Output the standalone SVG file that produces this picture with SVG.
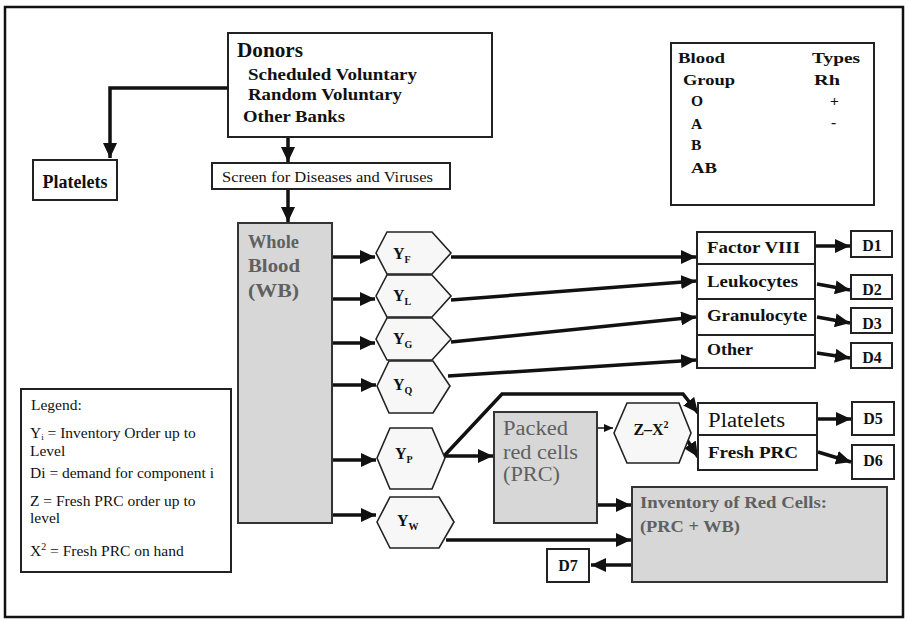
<svg xmlns="http://www.w3.org/2000/svg" width="908" height="621" viewBox="0 0 908 621">
<style>
.box{fill:#fff;stroke:#222;stroke-width:2}
.gbox{fill:#d7d7d7;stroke:#333;stroke-width:2}
.hex{fill:#f7f7f7;stroke:#222;stroke-width:1.6}
.c{fill:none;stroke:#111;stroke-width:3.5}
.thin{fill:none;stroke:#111;stroke-width:1.5}
.t{font-family:"Liberation Serif","Times New Roman",serif;fill:#111}
.b{font-weight:bold}
.g{fill:#606060}
</style>
<defs>
<marker id="ah" markerUnits="userSpaceOnUse" markerWidth="16" markerHeight="14" refX="15" refY="7" orient="auto"><path d="M0,0 L15,7 L0,14 z" fill="#111"/></marker>
<marker id="sh" markerUnits="userSpaceOnUse" markerWidth="9" markerHeight="8" refX="9" refY="4" orient="auto"><path d="M0,0 L9,4 L0,8 z" fill="#111"/></marker>
</defs>
<rect x="5" y="7" width="898" height="610" fill="#fff" stroke="#111" stroke-width="2.5"/>

<g id="connectors">
<path class="c" d="M228,88 H110 V158" marker-end="url(#ah)"/>
<path class="c" d="M288,137 V162" marker-end="url(#ah)"/>
<path class="c" d="M288,189 V222" marker-end="url(#ah)"/>
<path class="c" d="M332,257 H375" marker-end="url(#ah)"/>
<path class="c" d="M332,299 H375" marker-end="url(#ah)"/>
<path class="c" d="M332,343 H375" marker-end="url(#ah)"/>
<path class="c" d="M332,385 H376" marker-end="url(#ah)"/>
<path class="c" d="M332,460 H376" marker-end="url(#ah)"/>
<path class="c" d="M332,515 H376" marker-end="url(#ah)"/>
<path class="c" d="M451,257 H696" marker-end="url(#ah)"/>
<path class="c" d="M451,300 L696,281" marker-end="url(#ah)"/>
<path class="c" d="M451,342 L696,317" marker-end="url(#ah)"/>
<path class="c" d="M448,376 L696,360" marker-end="url(#ah)"/>
<path class="c" d="M815,246 H850" marker-end="url(#ah)"/>
<path class="c" d="M817,284 L850,290" marker-end="url(#ah)"/>
<path class="c" d="M817,317 L850,323" marker-end="url(#ah)"/>
<path class="c" d="M817,353 L850,358" marker-end="url(#ah)"/>
<path class="c" d="M444,456 L502,394 H683 L698,413" marker-end="url(#ah)"/>
<path class="c" d="M444,456 H493" marker-end="url(#ah)"/>
<path class="thin" d="M598,428 H613" marker-end="url(#sh)"/>
<path class="c" d="M687,440 L698,457" marker-end="url(#ah)"/>
<path class="c" d="M817,419 H851" marker-end="url(#ah)"/>
<path class="c" d="M818,452 L851,462" marker-end="url(#ah)"/>
<path class="c" d="M597,505 H631" marker-end="url(#ah)"/>
<path class="c" d="M446,540 H631" marker-end="url(#ah)"/>
<path class="c" d="M632,565 H591" marker-end="url(#ah)"/>
</g>

<g id="donors">
<rect class="box" x="228" y="33" width="264" height="104"/>
<text class="t b" x="237" y="57" font-size="20" textLength="66" lengthAdjust="spacingAndGlyphs">Donors</text>
<text class="t b" x="248" y="80" font-size="16.5" textLength="169" lengthAdjust="spacingAndGlyphs">Scheduled Voluntary</text>
<text class="t b" x="248" y="100" font-size="16.5" textLength="154" lengthAdjust="spacingAndGlyphs">Random Voluntary</text>
<text class="t b" x="243" y="122" font-size="16.5" textLength="102" lengthAdjust="spacingAndGlyphs">Other Banks</text>
</g>
<g id="platelets-left">
<rect class="box" x="33" y="160" width="84" height="40"/>
<text class="t b" x="75" y="188" font-size="18" text-anchor="middle">Platelets</text>
</g>
<g id="screen">
<rect class="box" x="212" y="163" width="238" height="26"/>
<text class="t" x="222" y="182" font-size="15" textLength="211" lengthAdjust="spacingAndGlyphs">Screen for Diseases and Viruses</text>
</g>
<g id="bloodtypes">
<rect class="box" x="671" y="43" width="203" height="162"/>
<text class="t b" x="678" y="63" font-size="15.5" textLength="47" lengthAdjust="spacingAndGlyphs">Blood</text>
<text class="t b" x="812" y="63" font-size="15.5" textLength="48" lengthAdjust="spacingAndGlyphs">Types</text>
<text class="t b" x="683" y="85" font-size="15.5" textLength="52" lengthAdjust="spacingAndGlyphs">Group</text>
<text class="t b" x="814" y="85" font-size="15.5" textLength="26" lengthAdjust="spacingAndGlyphs">Rh</text>
<text class="t b" x="691" y="106" font-size="15.5">O</text>
<text class="t b" x="830" y="106" font-size="15.5">+</text>
<text class="t b" x="691" y="129" font-size="15.5">A</text>
<text class="t b" x="831" y="127" font-size="15.5">-</text>
<text class="t b" x="691" y="150" font-size="15.5">B</text>
<text class="t b" x="691" y="173" font-size="15.5" textLength="26" lengthAdjust="spacingAndGlyphs">AB</text>
</g>
<g id="wholeblood">
<rect class="gbox" x="238" y="223" width="94" height="300"/>
<text class="t b g" x="248" y="248" font-size="19" textLength="51" lengthAdjust="spacingAndGlyphs">Whole</text>
<text class="t b g" x="248" y="272" font-size="19" textLength="52" lengthAdjust="spacingAndGlyphs">Blood</text>
<text class="t b g" x="248" y="297" font-size="19" textLength="51" lengthAdjust="spacingAndGlyphs">(WB)</text>
</g>
<g id="legend">
<rect class="box" x="21" y="389" width="210" height="183"/>
<text class="t" x="31" y="410" font-size="15.5">Legend:</text>
<text class="t" x="30" y="438" font-size="15.5">Y<tspan font-size="9" dy="2">i</tspan><tspan dy="-2"> = Inventory Order up to</tspan></text>
<text class="t" x="30" y="456" font-size="15.5">Level</text>
<text class="t" x="30" y="478" font-size="15.5">Di = demand for component i</text>
<text class="t" x="30" y="506" font-size="15.5">Z = Fresh PRC order up to</text>
<text class="t" x="30" y="523" font-size="15.5">level</text>
<text class="t" x="30" y="556" font-size="15.5">X<tspan font-size="10" dy="-6">2</tspan><tspan dy="6"> = Fresh PRC on hand</tspan></text>
</g>
<g id="yf">
<polygon class="hex" points="376,253 387,232 432,232 451,253 432,274 387,274"/>
<text class="t b" x="393" y="259" font-size="16">Y<tspan font-size="10" dy="4">F</tspan></text>
</g>
<g id="yl">
<polygon class="hex" points="376,296 387,275 432,275 451,296 432,317 387,317"/>
<text class="t b" x="393" y="301" font-size="16">Y<tspan font-size="10" dy="4">L</tspan></text>
</g>
<g id="yg">
<polygon class="hex" points="376,339 387,318 432,318 451,339 432,360 387,360"/>
<text class="t b" x="393" y="344" font-size="16">Y<tspan font-size="10" dy="4">G</tspan></text>
</g>
<g id="yq">
<polygon class="hex" points="377,386 389,361 433,361 450,386 433,413 389,413"/>
<text class="t b" x="393" y="390" font-size="16">Y<tspan font-size="10" dy="4">Q</tspan></text>
</g>
<g id="yp">
<polygon class="hex" points="377,458 390,428 432,428 445,458 432,489 390,489"/>
<text class="t b" x="395" y="459" font-size="16">Y<tspan font-size="10" dy="4">P</tspan></text>
</g>
<g id="yw">
<polygon class="hex" points="377,522 390,497 439,497 454,522 439,548 390,548"/>
<text class="t b" x="397" y="526" font-size="16">Y<tspan font-size="10" dy="4">W</tspan></text>
</g>
<g id="factor">
<rect class="box" x="697" y="232" width="118" height="32"/>
<text class="t b" x="707" y="253" font-size="16" textLength="93" lengthAdjust="spacingAndGlyphs">Factor VIII</text>
</g>
<g id="leuko">
<rect class="box" x="697" y="264" width="118" height="35"/>
<text class="t b" x="707" y="287" font-size="16" textLength="91" lengthAdjust="spacingAndGlyphs">Leukocytes</text>
</g>
<g id="granulo">
<rect class="box" x="697" y="299" width="118" height="36"/>
<text class="t b" x="707" y="321" font-size="16" textLength="100" lengthAdjust="spacingAndGlyphs">Granulocyte</text>
</g>
<g id="other">
<rect class="box" x="697" y="335" width="118" height="33"/>
<text class="t b" x="707" y="355" font-size="16" textLength="46" lengthAdjust="spacingAndGlyphs">Other</text>
</g>
<g id="d1"><rect class="box" x="851" y="231" width="41" height="26"/><text class="t b" x="872" y="251" font-size="16" text-anchor="middle">D1</text></g>
<g id="d2"><rect class="box" x="851" y="275" width="41" height="24"/><text class="t b" x="872" y="295" font-size="16" text-anchor="middle">D2</text></g>
<g id="d3"><rect class="box" x="851" y="308" width="41" height="25"/><text class="t b" x="872" y="329" font-size="16" text-anchor="middle">D3</text></g>
<g id="d4"><rect class="box" x="851" y="343" width="41" height="25"/><text class="t b" x="872" y="363" font-size="16" text-anchor="middle">D4</text></g>
<g id="packed">
<rect class="gbox" x="494" y="412" width="103" height="111"/>
<text class="t g" x="503" y="435" font-size="20" textLength="65" lengthAdjust="spacingAndGlyphs">Packed</text>
<text class="t g" x="503" y="459" font-size="20" textLength="75" lengthAdjust="spacingAndGlyphs">red cells</text>
<text class="t g" x="503" y="481" font-size="20" textLength="57" lengthAdjust="spacingAndGlyphs">(PRC)</text>
</g>
<g id="zx">
<polygon class="hex" points="614,433 627,403 679,403 691,433 679,463 627,463"/>
<text class="t b" x="651" y="435" font-size="16" text-anchor="middle">Z–X<tspan font-size="10" dy="-7">2</tspan></text>
</g>
<g id="platelets-right">
<rect class="box" x="698" y="403" width="119" height="32"/>
<text class="t" x="708" y="427" font-size="20" textLength="77" lengthAdjust="spacingAndGlyphs">Platelets</text>
</g>
<g id="freshprc">
<rect class="box" x="698" y="435" width="119" height="35"/>
<text class="t b" x="708" y="458" font-size="16" textLength="90" lengthAdjust="spacingAndGlyphs">Fresh PRC</text>
</g>
<g id="d5"><rect class="box" x="852" y="402" width="42" height="33"/><text class="t b" x="873" y="424" font-size="16" text-anchor="middle">D5</text></g>
<g id="d6"><rect class="box" x="852" y="445" width="42" height="34"/><text class="t b" x="873" y="466" font-size="16" text-anchor="middle">D6</text></g>
<g id="inventory">
<rect class="gbox" x="632" y="487" width="255" height="95"/>
<text class="t b g" x="640" y="508" font-size="16.5" textLength="187" lengthAdjust="spacingAndGlyphs">Inventory of Red Cells:</text>
<text class="t b g" x="640" y="532" font-size="16.5" textLength="100" lengthAdjust="spacingAndGlyphs">(PRC + WB)</text>
</g>
<g id="d7"><rect class="box" x="547" y="549" width="42" height="33"/><text class="t b" x="568" y="571" font-size="16" text-anchor="middle">D7</text></g>
</svg>
